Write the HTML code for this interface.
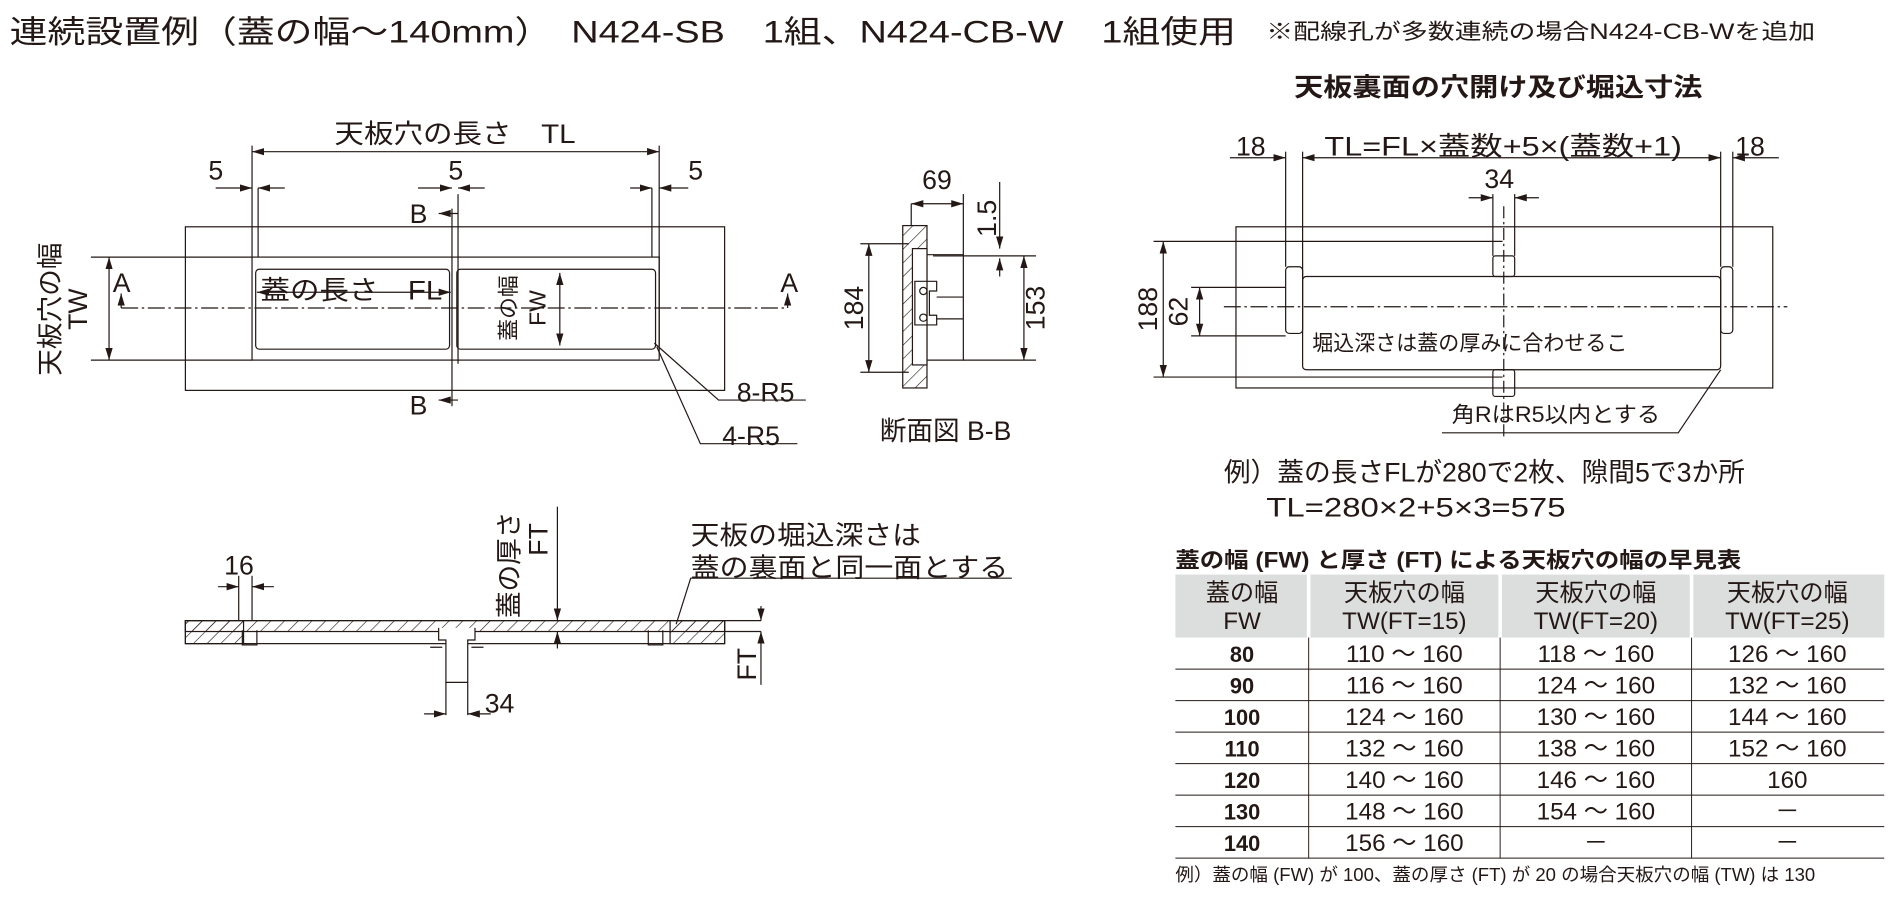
<!DOCTYPE html>
<html><head><meta charset="utf-8"><style>
html,body{margin:0;padding:0;background:#fff;}
svg{display:block}
text{font-family:"Liberation Sans","Noto Sans CJK JP",sans-serif;fill:#231815}
</style></head><body>
<svg width="1900" height="908" viewBox="0 0 1568 749" xmlns="http://www.w3.org/2000/svg">
<defs>
<marker id="ar" viewBox="0 0 10 6" refX="10" refY="3" markerWidth="10" markerHeight="6" orient="auto-start-reverse" markerUnits="userSpaceOnUse"><path d="M0,0L10,3L0,6z" fill="#231815"/></marker>
<pattern id="h" width="8" height="8" patternUnits="userSpaceOnUse" patternTransform="rotate(45)"><line x1="0" y1="0" x2="0" y2="8" stroke="#231815" stroke-width="1"/></pattern>
</defs>
<g stroke="#231815" stroke-width="1" fill="none">
<rect x="153" y="187" width="445" height="135"/>
<rect x="208" y="212" width="336" height="85"/>
<rect x="211" y="222" width="160" height="66" rx="3"/>
<rect x="377" y="222" width="164" height="66" rx="3"/>
<line x1="373" y1="172" x2="373" y2="335"/><line x1="378" y1="160" x2="378" y2="300"/>
<line x1="208" y1="120" x2="208" y2="212"/><line x1="544" y1="120" x2="544" y2="285"/>
<line x1="213" y1="155" x2="213" y2="212"/><line x1="538" y1="155" x2="538" y2="212"/>
<line x1="208" y1="125" x2="544" y2="125" marker-start="url(#ar)" marker-end="url(#ar)"/>
<line x1="178" y1="155" x2="208" y2="155" marker-end="url(#ar)"/><line x1="235" y1="155" x2="213" y2="155" marker-end="url(#ar)"/>
<line x1="345" y1="155" x2="373" y2="155" marker-end="url(#ar)"/><line x1="400" y1="155" x2="378" y2="155" marker-end="url(#ar)"/>
<line x1="520" y1="155" x2="538" y2="155" marker-end="url(#ar)"/><line x1="568" y1="155" x2="544" y2="155" marker-end="url(#ar)"/>
<line x1="75" y1="212" x2="208" y2="212"/><line x1="75" y1="297" x2="208" y2="297"/>
<line x1="90" y1="212" x2="90" y2="297" marker-start="url(#ar)" marker-end="url(#ar)"/>
<line x1="212" y1="241" x2="372" y2="241" marker-start="url(#ar)" marker-end="url(#ar)"/>
<line x1="462" y1="225" x2="462" y2="285" marker-start="url(#ar)" marker-end="url(#ar)"/>
<line x1="100" y1="254" x2="650" y2="254" stroke-dasharray="14,3,2,3"/>
<line x1="100" y1="254" x2="100" y2="242" marker-end="url(#ar)"/><line x1="650" y1="254" x2="650" y2="242" marker-end="url(#ar)"/>
<line x1="378" y1="176" x2="362" y2="176" marker-end="url(#ar)"/><line x1="378" y1="330" x2="362" y2="330" marker-end="url(#ar)"/>
<polyline points="540,283 593,330 665,330"/><polyline points="542,286 578,366 658,366"/>
<rect x="745" y="186" width="20" height="134" fill="url(#h)"/>
<rect x="753" y="205" width="12" height="96" fill="#fff"/>
<polyline points="765,210 795,210 795,297 765,297"/>
<path d="M755,232h18v8h-6v20h6v8h-18z"/>
<circle cx="762" cy="240" r="3"/><circle cx="762" cy="262" r="3"/>
<line x1="773" y1="245" x2="795" y2="245"/><line x1="773" y1="263" x2="795" y2="263"/>
<line x1="752" y1="168" x2="752" y2="186"/><line x1="795" y1="160" x2="795" y2="210"/>
<line x1="752" y1="168" x2="795" y2="168" marker-start="url(#ar)" marker-end="url(#ar)"/>
<line x1="710" y1="201" x2="750" y2="201"/><line x1="710" y1="307" x2="750" y2="307"/>
<line x1="717" y1="201" x2="717" y2="307" marker-start="url(#ar)" marker-end="url(#ar)"/>
<line x1="770" y1="211" x2="855" y2="211"/><line x1="795" y1="297" x2="855" y2="297"/>
<line x1="845" y1="211" x2="845" y2="297" marker-start="url(#ar)" marker-end="url(#ar)"/>
<line x1="825" y1="150" x2="825" y2="205" marker-end="url(#ar)"/><line x1="825" y1="228" x2="825" y2="213" marker-end="url(#ar)"/>
<rect x="1020" y="187" width="443" height="133"/>
<rect x="1075" y="228" width="345" height="77" rx="3"/>
<rect x="1061" y="220" width="14" height="55" rx="3"/><rect x="1420" y="220" width="10" height="55" rx="3"/>
<line x1="1061" y1="125" x2="1061" y2="220"/><line x1="1075" y1="125" x2="1075" y2="228"/>
<line x1="1420" y1="125" x2="1420" y2="220"/><line x1="1430" y1="125" x2="1430" y2="220"/>
<line x1="1015" y1="130" x2="1061" y2="130" marker-end="url(#ar)"/><line x1="1075" y1="130" x2="1420" y2="130" marker-start="url(#ar)" marker-end="url(#ar)"/>
<line x1="1468" y1="130" x2="1430" y2="130" marker-end="url(#ar)"/>
<rect x="1232" y="211" width="18" height="17" rx="2"/><rect x="1232" y="305" width="18" height="22" rx="2"/>
<line x1="1232" y1="160" x2="1232" y2="211"/><line x1="1250" y1="160" x2="1250" y2="211"/>
<line x1="1212" y1="163" x2="1232" y2="163" marker-end="url(#ar)"/><line x1="1270" y1="163" x2="1250" y2="163" marker-end="url(#ar)"/>
<line x1="1241" y1="170" x2="1241" y2="360" stroke-dasharray="10,3,2,3"/>
<line x1="1010" y1="253" x2="1475" y2="253" stroke-dasharray="14,3,2,3"/>
<line x1="952" y1="199" x2="1240" y2="199"/><line x1="952" y1="311" x2="1240" y2="311"/>
<line x1="960" y1="199" x2="960" y2="311" marker-start="url(#ar)" marker-end="url(#ar)"/>
<line x1="983" y1="237" x2="1061" y2="237"/><line x1="983" y1="277" x2="1061" y2="277"/>
<line x1="990" y1="237" x2="990" y2="277" marker-start="url(#ar)" marker-end="url(#ar)"/>
<polyline points="1190,357 1385,357 1420,305"/>
<rect x="153" y="512" width="445" height="19"/>
<rect x="153" y="512" width="445" height="9" fill="url(#h)"/>
<rect x="153" y="512" width="48" height="19" fill="url(#h)"/>
<rect x="553" y="512" width="45" height="19" fill="url(#h)"/>
<line x1="598" y1="512" x2="628" y2="512"/><line x1="598" y1="521" x2="628" y2="521"/>
<path d="M200,520v12h12v-12M535,520v12h12v-12"/>
<path d="M362,518v10h6v35h18v-35h6v-10" fill="#fff"/>
<path d="M355,534h10M389,534h10"/>
<line x1="197" y1="475" x2="197" y2="512"/><line x1="208" y1="475" x2="208" y2="512"/>
<line x1="180" y1="484" x2="197" y2="484" marker-end="url(#ar)"/><line x1="226" y1="484" x2="208" y2="484" marker-end="url(#ar)"/>
<line x1="368" y1="563" x2="368" y2="590"/><line x1="386" y1="563" x2="386" y2="590"/>
<line x1="350" y1="589" x2="368" y2="589" marker-end="url(#ar)"/><line x1="405" y1="589" x2="386" y2="589" marker-end="url(#ar)"/>
<line x1="460" y1="418" x2="460" y2="512" marker-end="url(#ar)"/><line x1="460" y1="535" x2="460" y2="521" marker-end="url(#ar)"/>
<line x1="628" y1="500" x2="628" y2="512" marker-end="url(#ar)"/><line x1="628" y1="565" x2="628" y2="521" marker-end="url(#ar)"/>
<polyline points="835,477 570,477 558,515"/>
</g>
<text x="8" y="35" font-size="26" textLength="1012" lengthAdjust="spacingAndGlyphs">連続設置例（蓋の幅～140mm）　N424-SB　1組、N424-CB-W　1組使用</text>
<text x="1045" y="32" font-size="18" textLength="453" lengthAdjust="spacingAndGlyphs">※配線孔が多数連続の場合N424-CB-Wを追加</text>
<g font-size="22">
<text x="276" y="118" textLength="199" lengthAdjust="spacingAndGlyphs">天板穴の長さ　TL</text>
<text x="172" y="148">5</text><text x="370" y="148">5</text><text x="568" y="148">5</text>
<text x="338" y="184">B</text><text x="338" y="342">B</text>
<text x="93" y="241">A</text><text x="644" y="241">A</text>
<text x="215" y="247" textLength="150" lengthAdjust="spacingAndGlyphs">蓋の長さ　FL</text>
<text x="608" y="331">8-R5</text><text x="596" y="367">4-R5</text>
<text x="726" y="363">断面図 B-B</text>
<text x="761" y="156">69</text>
<text transform="translate(49,255) rotate(-90)" text-anchor="middle">天板穴の幅</text>
<text transform="translate(72,255) rotate(-90)" text-anchor="middle">TW</text>
<text transform="translate(426,254) rotate(-90)" text-anchor="middle" font-size="18">蓋の幅</text>
<text transform="translate(450,254) rotate(-90)" text-anchor="middle" font-size="19">FW</text>
<text transform="translate(712,254) rotate(-90)" text-anchor="middle">184</text>
<text transform="translate(862,254) rotate(-90)" text-anchor="middle">153</text>
<text transform="translate(822,180) rotate(-90)" text-anchor="middle">1.5</text>
<text x="1068" y="79" font-size="21" font-weight="bold" textLength="337" lengthAdjust="spacingAndGlyphs">天板裏面の穴開け及び堀込寸法</text>
<text x="1020" y="128">18</text><text x="1093" y="128" textLength="295" lengthAdjust="spacingAndGlyphs">TL=FL×蓋数+5×(蓋数+1)</text><text x="1432" y="128">18</text>
<text x="1225" y="155">34</text>
<text transform="translate(955,255) rotate(-90)" text-anchor="middle">188</text>
<text transform="translate(980,257) rotate(-90)" text-anchor="middle">62</text>
<text x="1083" y="289" font-size="18" textLength="260" lengthAdjust="spacingAndGlyphs">堀込深さは蓋の厚みに合わせるこ</text>
<text x="1198" y="348" font-size="18" textLength="172" lengthAdjust="spacingAndGlyphs">角RはR5以内とする</text>
<text x="1010" y="397" textLength="430" lengthAdjust="spacingAndGlyphs">例）蓋の長さFLが280で2枚、隙間5で3か所</text>
<text x="1045" y="426" textLength="247" lengthAdjust="spacingAndGlyphs">TL=280×2+5×3=575</text>
<text x="185" y="474">16</text>
<text x="400" y="588">34</text>
<text x="570" y="449" textLength="190" lengthAdjust="spacingAndGlyphs">天板の堀込深さは</text>
<text x="570" y="476" textLength="262" lengthAdjust="spacingAndGlyphs">蓋の裏面と同一面とする</text>
<text transform="translate(428,466) rotate(-90)" text-anchor="middle">蓋の厚さ</text>
<text transform="translate(452,445) rotate(-90)" text-anchor="middle">FT</text>
<text transform="translate(624,548) rotate(-90)" text-anchor="middle">FT</text>
</g>
<text x="970" y="468" font-size="18" font-weight="bold" textLength="467" lengthAdjust="spacingAndGlyphs">蓋の幅 (FW) と厚さ (FT) による天板穴の幅の早見表</text>
<rect x="970" y="474" width="585" height="52" fill="#dcdddd"/>
<g stroke="#fff" stroke-width="3"><line x1="1080" y1="474" x2="1080" y2="526"/><line x1="1238" y1="474" x2="1238" y2="526"/><line x1="1396" y1="474" x2="1396" y2="526"/></g>
<g stroke="#231815" stroke-width="0.8">
<line x1="970" y1="552" x2="1555" y2="552"/><line x1="970" y1="578" x2="1555" y2="578"/><line x1="970" y1="604" x2="1555" y2="604"/><line x1="970" y1="630" x2="1555" y2="630"/><line x1="970" y1="656" x2="1555" y2="656"/><line x1="970" y1="682" x2="1555" y2="682"/><line x1="970" y1="708" x2="1555" y2="708"/>
<line x1="1080" y1="526" x2="1080" y2="708"/><line x1="1238" y1="526" x2="1238" y2="708"/><line x1="1396" y1="526" x2="1396" y2="708"/>
</g>
<g font-size="20" text-anchor="middle">
<text x="1025" y="496">蓋の幅</text><text x="1025" y="519">FW</text>
<text x="1159" y="496">天板穴の幅</text><text x="1159" y="519">TW(FT=15)</text>
<text x="1317" y="496">天板穴の幅</text><text x="1317" y="519">TW(FT=20)</text>
<text x="1475" y="496">天板穴の幅</text><text x="1475" y="519">TW(FT=25)</text>
<g font-weight="bold" font-size="18"><text x="1025" y="546">80</text><text x="1025" y="572">90</text><text x="1025" y="598">100</text><text x="1025" y="624">110</text><text x="1025" y="650">120</text><text x="1025" y="676">130</text><text x="1025" y="702">140</text></g>
<text x="1159" y="546">110 ～ 160</text><text x="1317" y="546">118 ～ 160</text><text x="1475" y="546">126 ～ 160</text>
<text x="1159" y="572">116 ～ 160</text><text x="1317" y="572">124 ～ 160</text><text x="1475" y="572">132 ～ 160</text>
<text x="1159" y="598">124 ～ 160</text><text x="1317" y="598">130 ～ 160</text><text x="1475" y="598">144 ～ 160</text>
<text x="1159" y="624">132 ～ 160</text><text x="1317" y="624">138 ～ 160</text><text x="1475" y="624">152 ～ 160</text>
<text x="1159" y="650">140 ～ 160</text><text x="1317" y="650">146 ～ 160</text><text x="1475" y="650">160</text>
<text x="1159" y="676">148 ～ 160</text><text x="1317" y="676">154 ～ 160</text><text x="1475" y="676">－</text>
<text x="1159" y="702">156 ～ 160</text><text x="1317" y="702">－</text><text x="1475" y="702">－</text>
</g>
<text x="970" y="727" font-size="15" textLength="528" lengthAdjust="spacingAndGlyphs">例）蓋の幅 (FW) が 100、蓋の厚さ (FT) が 20 の場合天板穴の幅 (TW) は 130</text>
</svg>
</body></html>
